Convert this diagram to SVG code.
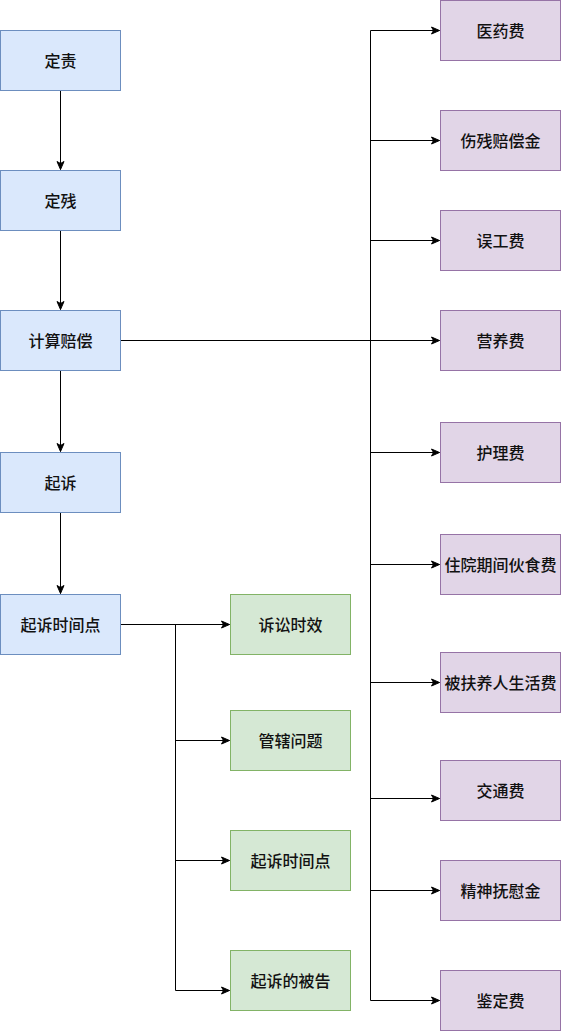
<svg xmlns="http://www.w3.org/2000/svg" width="561" height="1032" viewBox="0 0 561 1032">
<defs>
<style>
.blue{fill:#dae8fc;stroke:#6c8ebf;stroke-width:1}
.purple{fill:#e1d5e7;stroke:#9673a6;stroke-width:1}
.green{fill:#d5e8d4;stroke:#82b366;stroke-width:1}
text{font-family:"Noto Sans CJK SC","Noto Sans",sans-serif;font-size:16px;font-weight:500;fill:#111;text-anchor:middle;dominant-baseline:central}
.edge{fill:none;stroke:#000;stroke-width:1}
</style>
<marker id="arr" markerUnits="userSpaceOnUse" markerWidth="10" markerHeight="10" viewBox="0 0 10 10" refX="9" refY="5" orient="auto">
<path d="M1,1.5 L9,5 L1,8.5 L3,5 z" fill="#000" stroke="#000" stroke-width="1"/>
</marker>
</defs>
<rect width="561" height="1032" fill="#fff"/>
<g id="edges">
<path class="edge" d="M60.5,90.5 V169.5" marker-end="url(#arr)"/>
<path class="edge" d="M60.5,230.5 V309.5" marker-end="url(#arr)"/>
<path class="edge" d="M60.5,370.5 V451.5" marker-end="url(#arr)"/>
<path class="edge" d="M60.5,512.5 V593.5" marker-end="url(#arr)"/>
<path class="edge" d="M120.5,340.5 H439.5" marker-end="url(#arr)"/>
<path class="edge" d="M370.5,30.5 V1000.5"/>
<path class="edge" d="M370.5,30.5 H439.5" marker-end="url(#arr)"/>
<path class="edge" d="M370.5,140.5 H439.5" marker-end="url(#arr)"/>
<path class="edge" d="M370.5,240.5 H439.5" marker-end="url(#arr)"/>
<path class="edge" d="M370.5,452.5 H439.5" marker-end="url(#arr)"/>
<path class="edge" d="M370.5,564.5 H439.5" marker-end="url(#arr)"/>
<path class="edge" d="M370.5,682.5 H439.5" marker-end="url(#arr)"/>
<path class="edge" d="M370.5,798.5 H439.5" marker-end="url(#arr)"/>
<path class="edge" d="M370.5,890.5 H439.5" marker-end="url(#arr)"/>
<path class="edge" d="M370.5,1000.5 H439.5" marker-end="url(#arr)"/>
<path class="edge" d="M120.5,624.5 H229.5" marker-end="url(#arr)"/>
<path class="edge" d="M175.5,624.5 V990.5"/>
<path class="edge" d="M175.5,740.5 H229.5" marker-end="url(#arr)"/>
<path class="edge" d="M175.5,860.5 H229.5" marker-end="url(#arr)"/>
<path class="edge" d="M175.5,990.5 H229.5" marker-end="url(#arr)"/>
</g>
<g id="n-dingze"><rect class="blue" x="0.5" y="30.5" width="120" height="60"/><text x="60.5" y="60">定责</text></g>
<g id="n-dingcan"><rect class="blue" x="0.5" y="170.5" width="120" height="60"/><text x="60.5" y="200">定残</text></g>
<g id="n-jisuan"><rect class="blue" x="0.5" y="310.5" width="120" height="60"/><text x="60.5" y="340">计算赔偿</text></g>
<g id="n-qisu"><rect class="blue" x="0.5" y="452.5" width="120" height="60"/><text x="60.5" y="482">起诉</text></g>
<g id="n-qisushijian"><rect class="blue" x="0.5" y="594.5" width="120" height="60"/><text x="60.5" y="624">起诉时间点</text></g>
<g id="n-yiyao"><rect class="purple" x="440.5" y="0.5" width="120" height="60"/><text x="500.5" y="30">医药费</text></g>
<g id="n-shangcan"><rect class="purple" x="440.5" y="110.5" width="120" height="60"/><text x="500.5" y="140">伤残赔偿金</text></g>
<g id="n-wugong"><rect class="purple" x="440.5" y="210.5" width="120" height="60"/><text x="500.5" y="240">误工费</text></g>
<g id="n-yingyang"><rect class="purple" x="440.5" y="310.5" width="120" height="60"/><text x="500.5" y="340">营养费</text></g>
<g id="n-huli"><rect class="purple" x="440.5" y="422.5" width="120" height="60"/><text x="500.5" y="452">护理费</text></g>
<g id="n-zhuyuan"><rect class="purple" x="440.5" y="534.5" width="120" height="60"/><text x="500.5" y="564">住院期间伙食费</text></g>
<g id="n-fuyang"><rect class="purple" x="440.5" y="652.5" width="120" height="60"/><text x="500.5" y="682">被扶养人生活费</text></g>
<g id="n-jiaotong"><rect class="purple" x="440.5" y="760.5" width="120" height="60"/><text x="500.5" y="790">交通费</text></g>
<g id="n-jingshen"><rect class="purple" x="440.5" y="860.5" width="120" height="60"/><text x="500.5" y="890">精神抚慰金</text></g>
<g id="n-jianding"><rect class="purple" x="440.5" y="970.5" width="120" height="60"/><text x="500.5" y="1000">鉴定费</text></g>
<g id="n-susong"><rect class="green" x="230.5" y="594.5" width="120" height="60"/><text x="290.5" y="624">诉讼时效</text></g>
<g id="n-guanxia"><rect class="green" x="230.5" y="710.5" width="120" height="60"/><text x="290.5" y="740">管辖问题</text></g>
<g id="n-qisushijian2"><rect class="green" x="230.5" y="830.5" width="120" height="60"/><text x="290.5" y="860">起诉时间点</text></g>
<g id="n-beigao"><rect class="green" x="230.5" y="950.5" width="120" height="60"/><text x="290.5" y="980">起诉的被告</text></g>
</svg>
